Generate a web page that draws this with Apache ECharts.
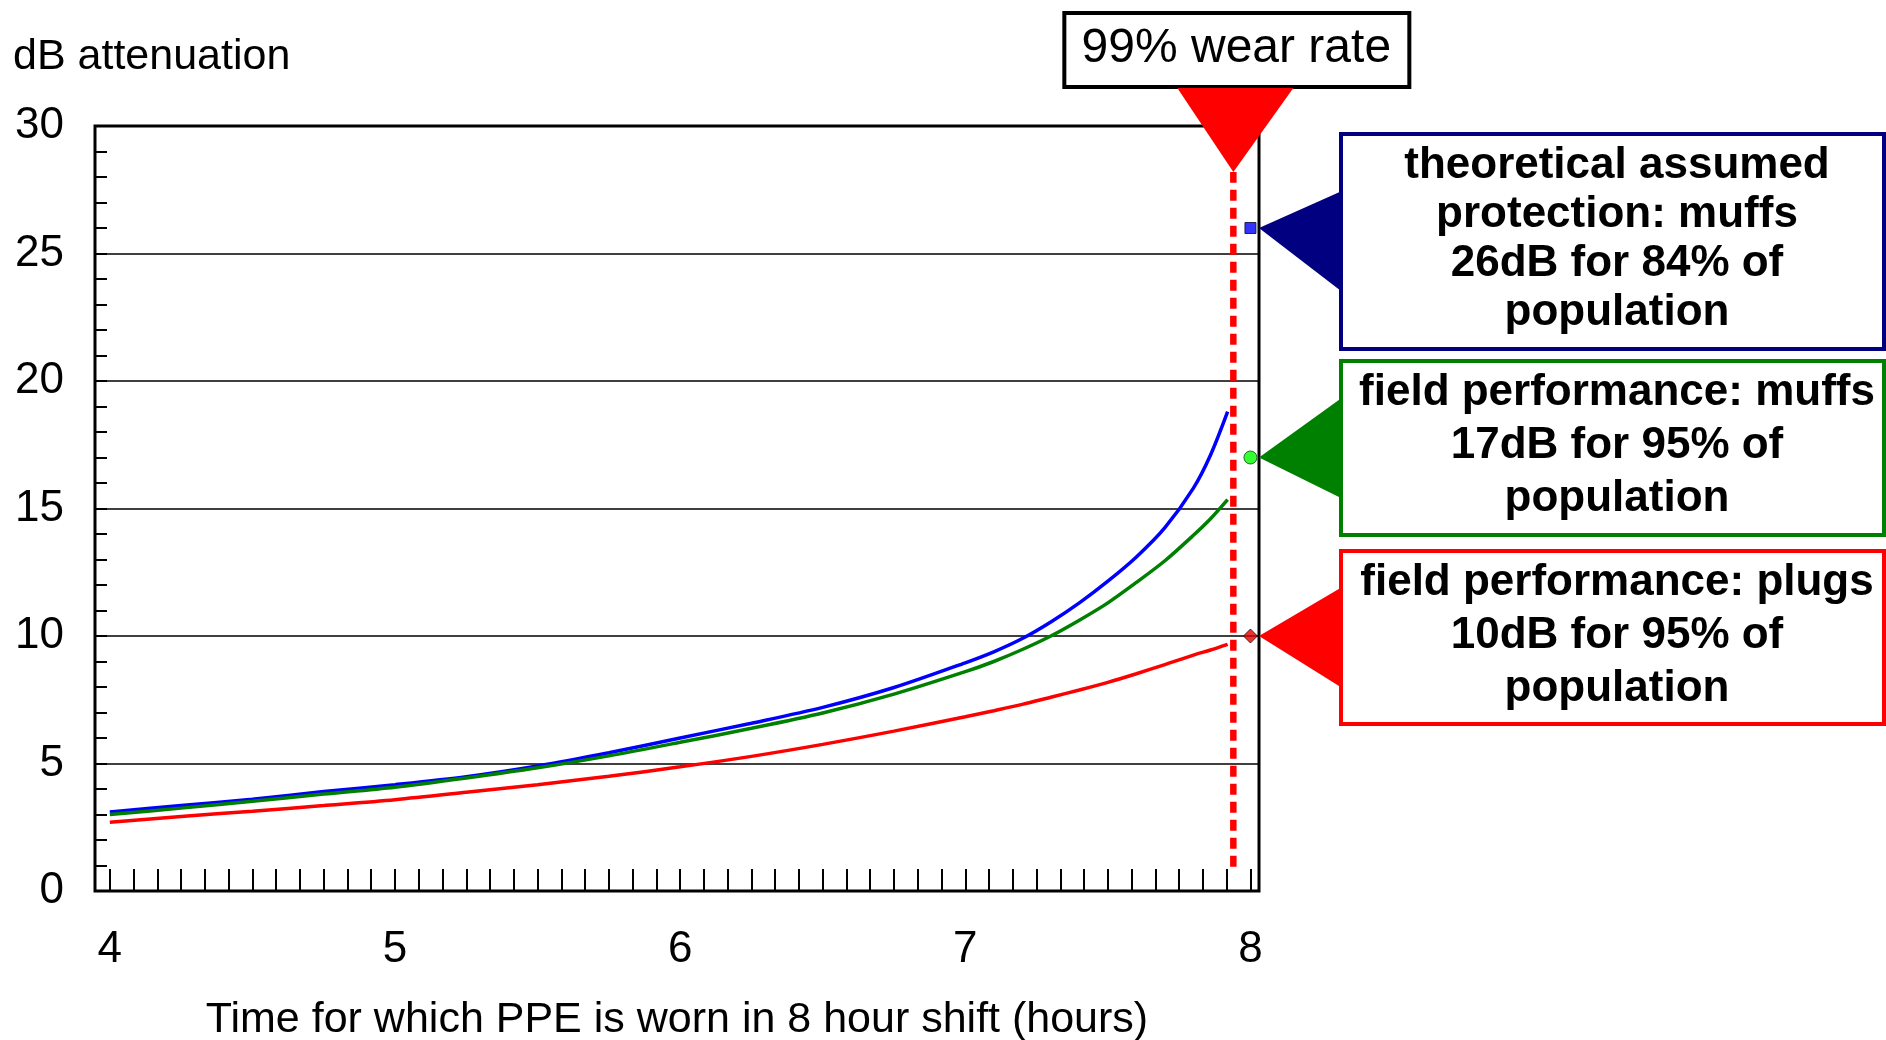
<!DOCTYPE html>
<html>
<head>
<meta charset="utf-8">
<title>PPE wear time vs attenuation</title>
<script src="https://cdn.jsdelivr.net/npm/echarts@6/dist/echarts.min.js"></script>
<style>
  html, body { margin: 0; padding: 0; background: #fff; }
  #chart { width: 1886px; height: 1040px; }
</style>
</head>
<body>
<div id="chart"></div>
<script>
  // hours worn out of the 8 hour shift
  const hours = [4, 4.25, 4.5, 4.75, 5, 5.25, 5.5, 5.75, 6, 6.25, 6.5, 6.75, 7, 7.1, 7.2, 7.3, 7.4, 7.5, 7.6, 7.7, 7.8, 7.86, 7.92];
  // effective attenuation (dB)
  const theoreticalMuffs = [3.1, 3.35, 3.6, 3.9, 4.17, 4.48, 4.9, 5.42, 6.0, 6.58, 7.2, 7.98, 8.95, 9.38, 9.9, 10.55, 11.3, 12.15, 13.1, 14.25, 15.8, 17.1, 18.8];
  const fieldMuffs = [3.0, 3.25, 3.52, 3.8, 4.07, 4.43, 4.83, 5.3, 5.83, 6.38, 6.98, 7.72, 8.6, 9.0, 9.47, 10.0, 10.62, 11.3, 12.1, 12.95, 13.95, 14.6, 15.35];
  const fieldPlugs = [2.7, 2.92, 3.13, 3.35, 3.58, 3.87, 4.17, 4.5, 4.87, 5.28, 5.75, 6.27, 6.83, 7.07, 7.32, 7.6, 7.88, 8.18, 8.52, 8.88, 9.25, 9.45, 9.67];

  const xTickLabels = [4, 5, 6, 7, 8];

  // 99% wear rate marker
  const wearRateHour = 7.94;
  const wearLineRange = [0.95, 28.2];

  // full-shift claimed protection
  const claimHour = 8;
  const claimValues = [26, 17, 10];
  const claimTexts = [
    'theoretical assumed\nprotection: muffs\n26dB for 84% of\npopulation',
    'field performance: muffs\n17dB for 95% of\npopulation',
    'field performance: plugs\n10dB for 95% of\npopulation'
  ];

  const FONT = "'Liberation Sans', Arial, sans-serif";
  const lineColors = ['#0000ff', '#008000', '#ff0000'];
  const boxColors = ['#000080', '#008000', '#ff0000'];

  // x minor ticks every 5 minutes
  const xMinorTicks = [];
  for (let i = 0; i <= 48; i++) xMinorTicks.push(4 + i / 12);

  const toPairs = vals => hours.map((h, i) => [h, vals[i]]);

  const curve = (name, vals, color) => ({
    name: name,
    type: 'line',
    data: toPairs(vals),
    smooth: 0.3,
    showSymbol: false,
    symbol: 'none',
    lineStyle: { color: color, width: 3.5 },
    z: 3
  });

  const chart = echarts.init(document.getElementById('chart'));

  const option = {
    animation: false,
    backgroundColor: '#fff',
    grid: {
      left: 95, right: 627, top: 126, bottom: 149,
      show: true, borderColor: '#000', borderWidth: 3,
      containLabel: false, outerBoundsMode: 'none'
    },
    xAxis: {
      type: 'value',
      min: 3.948, max: 8.03,
      name: 'Time for which PPE is worn in 8 hour shift (hours)',
      nameLocation: 'middle',
      nameGap: 108,
      nameTextStyle: { fontFamily: FONT, fontSize: 43, color: '#000' },
      axisLine: { show: false },
      splitLine: { show: false },
      axisTick: {
        show: true, inside: true, length: 22,
        customValues: xMinorTicks,
        lineStyle: { color: '#000', width: 2 }
      },
      axisLabel: {
        customValues: xTickLabels,
        fontFamily: FONT, fontSize: 44, color: '#000', margin: 37
      }
    },
    yAxis: {
      type: 'value',
      min: 0, max: 30, interval: 5,
      axisLine: { show: false },
      splitLine: { show: true, lineStyle: { color: '#000', width: 1.5 } },
      axisTick: {
        show: true, inside: true, length: 12,
        lineStyle: { color: '#000', width: 2 }
      },
      minorTick: {
        show: true, splitNumber: 5, length: 12,
        lineStyle: { color: '#000', width: 2 }
      },
      minorSplitLine: { show: false },
      axisLabel: {
        fontFamily: FONT, fontSize: 44, color: '#000', margin: 31
      }
    },
    series: [
      curve('theoretical muffs', theoreticalMuffs, lineColors[0]),
      curve('field muffs', fieldMuffs, lineColors[1]),
      curve('field plugs', fieldPlugs, lineColors[2]),
      {
        name: 'wear rate',
        type: 'line',
        data: wearLineRange.map(v => [wearRateHour, v]),
        symbol: 'none',
        lineStyle: { color: '#ff0000', width: 6.5, type: [11, 7], cap: 'butt' },
        z: 4
      },
      {
        name: 'claims',
        type: 'scatter',
        data: [
          { value: [claimHour, claimValues[0]], symbol: 'rect', symbolSize: 11,
            itemStyle: { color: '#0000ff', borderColor: '#000040', borderWidth: 1 } },
          { value: [claimHour, claimValues[1]], symbol: 'circle', symbolSize: 13,
            itemStyle: { color: '#00ff00', borderColor: '#005000', borderWidth: 1 } },
          { value: [claimHour, claimValues[2]], symbol: 'diamond', symbolSize: 14,
            itemStyle: { color: '#e00000', borderColor: '#300000', borderWidth: 1 } }
        ],
        z: 5
      }
    ]
  };
  chart.setOption(option);

  // annotations, anchored on the axes
  const toPx = (x, y) => chart.convertToPixel({ gridIndex: 0 }, [x, y]);
  const rightEdge = toPx(8.03, 0)[0];
  const wearX = toPx(wearRateHour, 0)[0];
  const wearTipY = toPx(wearRateHour, wearLineRange[1])[1];

  const boxLeft = 1341;
  const boxWidth = 543;
  const boxTops = [134, 361, 551];
  const boxHeights = [215, 174, 173];

  const graphic = [
    {
      type: 'text', left: 13, top: 36,
      style: { text: 'dB attenuation', font: '43px ' + FONT, fill: '#000' }
    },
    {
      type: 'rect',
      shape: { x: wearX - 169, y: 13, width: 345, height: 74 },
      style: { fill: '#fff', stroke: '#000', lineWidth: 4 },
      z: 10
    },
    {
      type: 'text', x: wearX + 3, y: 49,
      style: { text: '99% wear rate', font: '48px ' + FONT, fill: '#000', align: 'center', verticalAlign: 'middle' },
      z: 11
    },
    {
      type: 'polygon',
      shape: { points: [[wearX - 56, 88], [wearX + 60, 88], [wearX, wearTipY]] },
      style: { fill: '#ff0000' },
      z: 10
    }
  ];

  claimValues.forEach((v, i) => {
    const tipY = toPx(claimHour, v)[1];
    const cy = boxTops[i] + boxHeights[i] / 2;
    graphic.push({
      type: 'rect',
      shape: { x: boxLeft, y: boxTops[i], width: boxWidth, height: boxHeights[i] },
      style: { fill: '#fff', stroke: boxColors[i], lineWidth: 4 },
      z: 10
    });
    graphic.push({
      type: 'polygon',
      shape: { points: [[boxLeft + 2, cy - 51], [boxLeft + 2, cy + 51], [rightEdge, tipY]] },
      style: { fill: boxColors[i] },
      z: 10
    });
    graphic.push({
      type: 'text', x: 1617, y: cy - 2,
      style: {
        text: claimTexts[i], font: 'bold 44px ' + FONT, fill: '#000',
        align: 'center', verticalAlign: 'middle', lineHeight: i === 0 ? 49 : 53
      },
      z: 11
    });
  });

  chart.setOption({ graphic: graphic });
</script>
</body>
</html>
